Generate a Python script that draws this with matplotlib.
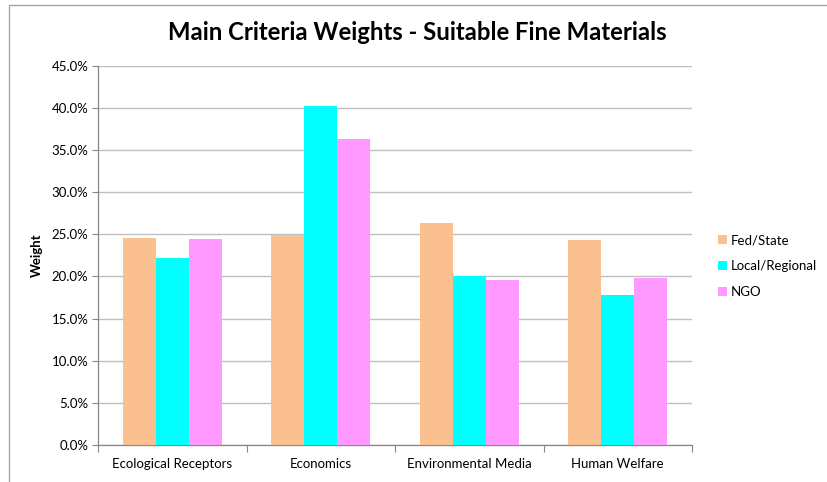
import matplotlib
matplotlib.use("Agg")
import matplotlib.pyplot as plt
from matplotlib.patches import Rectangle
from matplotlib.ticker import FuncFormatter, FixedLocator
import numpy as np

categories = ["Ecological Receptors", "Economics", "Environmental Media", "Human Welfare"]
series_names = ["Fed/State", "Local/Regional", "NGO"]
fed_state = [24.6, 24.9, 26.3, 24.3]
local_regional = [22.2, 40.2, 20.0, 17.8]
ngo = [24.4, 36.3, 19.6, 19.8]
colors = ["#FAC090", "#00FFFF", "#FF99FF"]

plt.rcParams['font.family'] = ['Lato', 'DejaVu Sans']

fig = plt.figure(figsize=(8.27, 4.82), dpi=100)
W, H = 827, 482
ax = fig.add_axes([98 / W, 1 - 445 / H, (692 - 98) / W, (445 - 65.5) / H])

x = np.arange(len(categories))
bw = 1 / 4.5
for i, (vals, name, c) in enumerate(zip([fed_state, local_regional, ngo], series_names, colors)):
    ax.bar(x + (i - 1) * bw, vals, width=bw, color=c, label=name, zorder=3)

ax.set_xlim(-0.5, len(categories) - 0.5)
ax.set_ylim(0, 45)
ax.set_yticks(np.arange(0, 45.1, 5))
ax.yaxis.set_major_formatter(FuncFormatter(lambda v, p: f"{v:.1f}%"))
ax.set_xticks(x)
ax.set_xticklabels(categories, fontsize=9.5)
ax.xaxis.set_minor_locator(FixedLocator(np.arange(-0.5, len(categories), 1)))
ax.tick_params(axis='x', which='major', length=0, pad=9)
ax.tick_params(axis='x', which='minor', length=5, color='#868686', width=0.8)
ax.tick_params(axis='y', length=4, color='#868686', width=0.8, labelsize=9.5, pad=3)

ax.grid(axis='y', color='#BFBFBF', linewidth=1.0, zorder=0)
for s in ['top', 'right']:
    ax.spines[s].set_visible(False)
for s in ['left', 'bottom']:
    ax.spines[s].set_color('#868686')
    ax.spines[s].set_linewidth(0.9)

ax.set_ylabel("Weight", fontsize=9.5, fontweight='bold', labelpad=6)

fig.text(417 / W, 1 - 33 / H, "Main Criteria Weights - Suitable Fine Materials",
         ha='center', va='center', fontsize=17.2, fontweight='bold')

leg = ax.legend(loc='center left', bbox_to_anchor=(711 / W, 1 - 266 / H),
                bbox_transform=fig.transFigure, frameon=False, fontsize=9.5,
                handlelength=0.7, handleheight=0.7, handletextpad=0.3,
                labelspacing=1.05, borderpad=0)

# chart frame
fig.patches.append(Rectangle((9 / W, -0.1), 1.2, 1 - 5 / H + 0.1, transform=fig.transFigure,
                             fill=False, edgecolor='#A6A6A6', linewidth=1.0))

fig.savefig("out.png", dpi=100)
